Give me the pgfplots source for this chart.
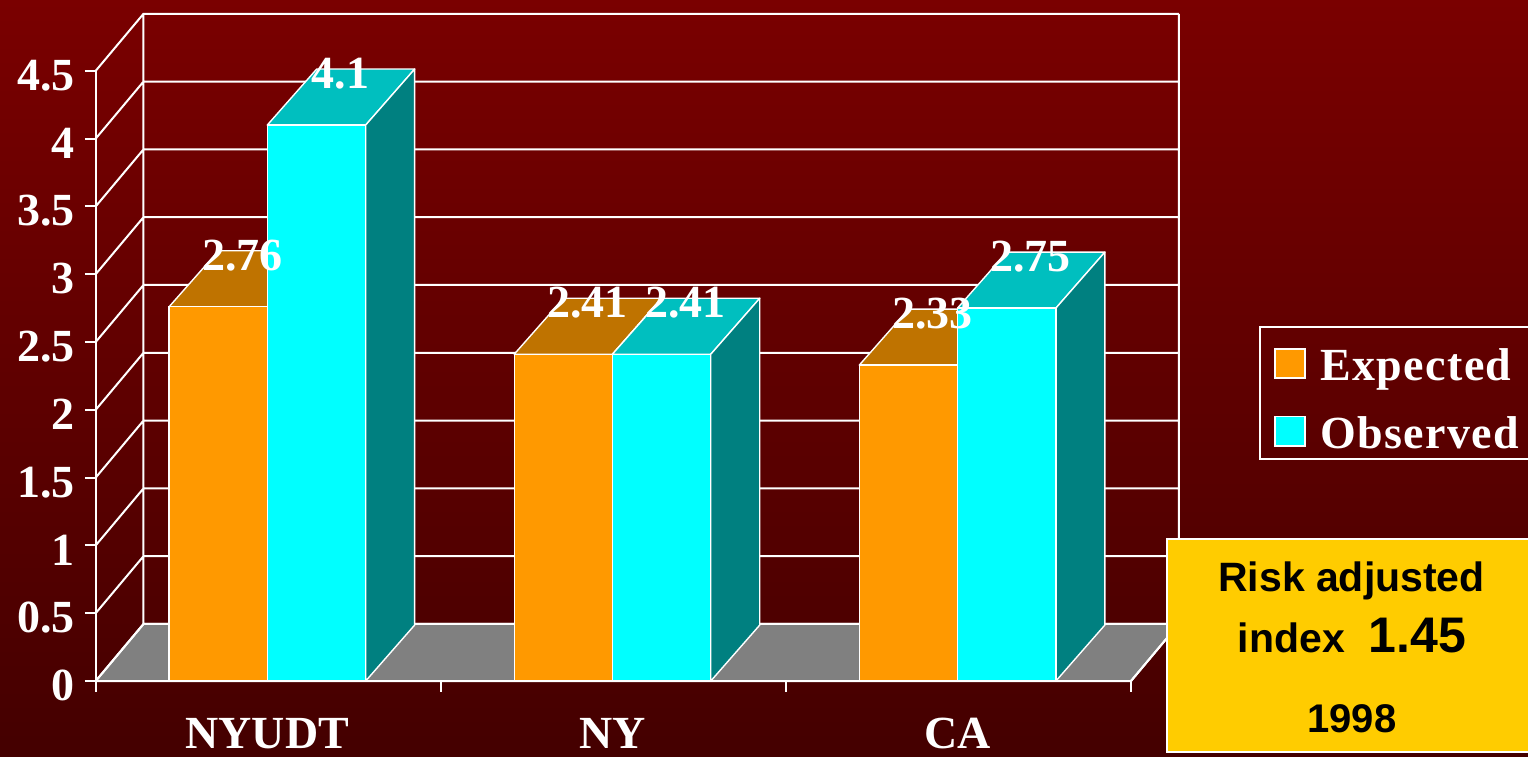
\documentclass[border=0pt]{standalone}
\usepackage{pgfplots}
\pgfplotsset{compat=1.18}
\usepackage{pgfplotstable}
\usepackage{fontspec}
\setmainfont{Liberation Serif}
\newfontfamily\arialfont{Liberation Sans}
\newfontfamily\legfont[LetterSpace=3]{Liberation Serif}
\definecolor{bgtop}{RGB}{122,0,0}
\definecolor{bgbot}{RGB}{68,0,0}
\definecolor{expfront}{RGB}{255,153,0}
\definecolor{exptop}{RGB}{191,115,0}
\definecolor{expside}{RGB}{128,77,0}
\definecolor{obsfront}{RGB}{0,255,255}
\definecolor{obstop}{RGB}{0,191,191}
\definecolor{obsside}{RGB}{0,128,128}
\definecolor{floorgray}{RGB}{128,128,128}
\definecolor{boxyellow}{RGB}{255,204,0}
\newcommand\lab{\fontsize{23}{27}\selectfont\bfseries}
\pgfdeclareplotmark{none3d}{}

\pgfplotstableread{
x  e     o
0  2.76  4.1
1  2.41  2.41
2  2.33  2.75
}\datatable

\pgfplotsset{
  bar3d/.style n args={3}{
    scatter, only marks, mark=none3d,
    visualization depends on={rawy \as \val},
    scatter/@pre marker code/.code={
      \filldraw[fill=#2, draw=white, line width=0.7pt, line join=round]
        (-24.6pt,0pt) -- (24.6pt,0pt) -- (49.1pt,28pt) -- (0.1pt,28pt) -- cycle;
      \filldraw[fill=#3, draw=white, line width=0.7pt, line join=round]
        (24.6pt,0pt) -- (49.1pt,28pt) -- (49.1pt,{28pt-\val*67.8pt}) -- (24.6pt,{-\val*67.8pt}) -- cycle;
      \filldraw[fill=#1, draw=white, line width=0.7pt]
        (-24.6pt,{-\val*67.8pt}) rectangle (24.6pt,0pt);
    },
    scatter/@post marker code/.code={},
  },
  barlabel/.style={
    only marks, mark=none3d,
    point meta=explicit symbolic,
    nodes near coords,
    every node near coord/.append style={anchor=base, text=white, font=\lab,
      inner sep=0pt, xshift=12pt, yshift=18.25pt},
  },
}

\begin{document}
\begin{tikzpicture}
\shade[top color=bgtop, bottom color=bgbot] (-47.85pt,-37.5pt) rectangle (716.15pt,340.5pt);
\begin{axis}[
  at={(0pt,0pt)}, anchor=south west,
  x=172.55pt, y=67.8pt,
  xmin=0, xmax=3, ymin=0, ymax=4.5,
  clip=false,
  axis x line=bottom, axis y line=left,
  axis line style={white, line width=1pt, -},
  tick style={white, line width=1pt},
  tick align=outside, major tick length=5.4pt,
  xtick={0,1,2,3}, xticklabels={},
  ytick={0,0.5,1,1.5,2,2.5,3,3.5,4,4.5},
  yticklabel style={text=white, font=\lab, anchor=east, inner sep=0pt, xshift=-4.85pt, yshift=-2.3pt},
  /pgf/number format/assume math mode=true,
  unbounded coords=jump,
]
% floor
\addplot[fill=floorgray, draw=white, line width=1pt, forget plot]
  coordinates {(0,0) (3,0) (3.1385,0.4204) (0.1385,0.4204) (0,0)};
% walls and grid
\addplot[white, line width=1pt, forget plot] coordinates {
 (0,0) (0.1385,0.4204) (3.1385,0.4204) (nan,nan)
 (0,0.5) (0.1385,0.9204) (3.1385,0.9204) (nan,nan)
 (0,1) (0.1385,1.4204) (3.1385,1.4204) (nan,nan)
 (0,1.5) (0.1385,1.9204) (3.1385,1.9204) (nan,nan)
 (0,2) (0.1385,2.4204) (3.1385,2.4204) (nan,nan)
 (0,2.5) (0.1385,2.9204) (3.1385,2.9204) (nan,nan)
 (0,3) (0.1385,3.4204) (3.1385,3.4204) (nan,nan)
 (0,3.5) (0.1385,3.9204) (3.1385,3.9204) (nan,nan)
 (0,4) (0.1385,4.4204) (3.1385,4.4204) (nan,nan)
 (0,4.5) (0.1385,4.9204) (3.1385,4.9204) (nan,nan)
 (0.1385,0.4204) (0.1385,4.9204) (nan,nan)
 (3.1385,0.4204) (3.1385,4.9204) (nan,nan)
 (3,0) (3.1385,0.4204)
};
% bars
\addplot[bar3d={expfront}{exptop}{expside}] table[x expr=\thisrow{x}+0.3553, y=e] {\datatable};
\addplot[bar3d={obsfront}{obstop}{obsside}] table[x expr=\thisrow{x}+0.6398, y=o] {\datatable};
% value labels
\addplot[barlabel] table[x expr=\thisrow{x}+0.3553, y=e, meta=e] {\datatable};
\addplot[barlabel] table[x expr=\thisrow{x}+0.6398, y=o, meta=o] {\datatable};
% category labels
\node[anchor=base, text=white, font=\lab, inner sep=0pt, yshift=-33.6pt] at (axis cs:0.497,0) {NYUDT};
\node[anchor=base, text=white, font=\lab, inner sep=0pt, yshift=-33.6pt] at (axis cs:1.497,0) {NY};
\node[anchor=base, text=white, font=\lab, inner sep=0pt, yshift=-33.6pt] at (axis cs:2.497,0) {CA};
\end{axis}
% legend
\draw[white, line width=1pt] (582.15pt,111pt) rectangle (722pt,177.15pt);
\filldraw[fill=expfront, draw=white, line width=0.8pt] (589.65pt,151.5pt) rectangle (604.65pt,166pt);
\filldraw[fill=obsfront, draw=white, line width=0.8pt] (589.65pt,117.5pt) rectangle (604.65pt,132.15pt);
\node[anchor=base west, inner sep=0pt, text=white, font={\legfont\fontsize{23}{27}\selectfont\bfseries}] at (612.15pt,150.15pt) {Expected};
\node[anchor=base west, inner sep=0pt, text=white, font={\legfont\fontsize{23}{27}\selectfont\bfseries}] at (612.15pt,116.15pt) {Observed};
% risk box
\filldraw[fill=boxyellow, draw=white, line width=0.8pt] (535.65pt,-35.5pt) rectangle (722pt,71pt);
\node[anchor=base, inner sep=0pt, text=black, font={\arialfont\bfseries\fontsize{20.5}{24}\selectfont}] at (627.9pt,45pt) {Risk adjusted};
\node[anchor=base, inner sep=0pt, text=black, font={\arialfont\bfseries\fontsize{20.5}{24}\selectfont}] at (628.15pt,14.35pt) {index\hspace{12pt}{\fontsize{25}{30}\selectfont 1.45}};
\node[anchor=base, inner sep=0pt, text=black, font={\arialfont\bfseries\fontsize{20}{24}\selectfont}] at (628.15pt,-25.85pt) {1998};
\pgfresetboundingbox
\path[use as bounding box] (-47.85pt,-37.5pt) rectangle (716.15pt,340.5pt);
\end{tikzpicture}
\end{document}
